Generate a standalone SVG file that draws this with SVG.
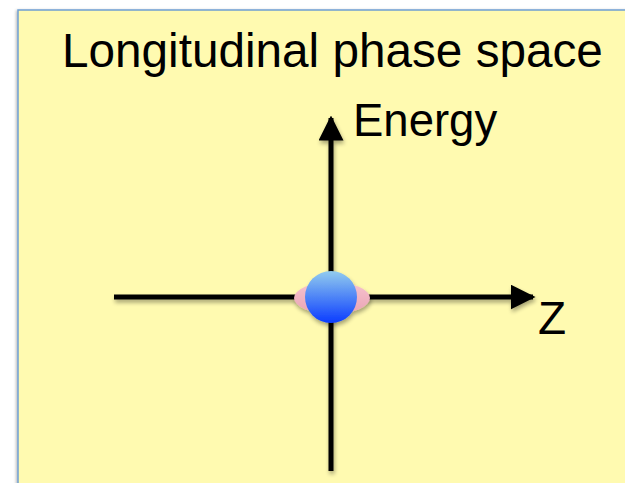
<svg xmlns="http://www.w3.org/2000/svg" width="625" height="483" viewBox="0 0 625 483">
  <style>
    .lbl { font-family: "Liberation Sans", Arial, sans-serif; fill: #000; }
    .axis { stroke: #000; stroke-width: 5; fill: none; }
  </style>
  <defs>
    <filter id="sh" x="-20%" y="-20%" width="140%" height="160%">
      <feGaussianBlur in="SourceAlpha" stdDeviation="2"/>
      <feOffset dx="1" dy="3" result="b"/>
      <feComponentTransfer><feFuncA type="linear" slope="0.35"/></feComponentTransfer>
      <feMerge><feMergeNode/><feMergeNode in="SourceGraphic"/></feMerge>
    </filter>
    <filter id="bsh" x="-5%" y="-5%" width="110%" height="110%">
      <feGaussianBlur in="SourceAlpha" stdDeviation="1.5"/>
      <feOffset dx="-1" dy="1"/>
      <feComponentTransfer><feFuncA type="linear" slope="0.3"/></feComponentTransfer>
      <feMerge><feMergeNode/><feMergeNode in="SourceGraphic"/></feMerge>
    </filter>
    <linearGradient id="blue" x1="0" y1="0" x2="0" y2="1">
      <stop offset="0" stop-color="#92ccee"/>
      <stop offset="1" stop-color="#0a3cff"/>
    </linearGradient>
    <linearGradient id="pink" x1="0" y1="0" x2="0" y2="1">
      <stop offset="0" stop-color="#f7c3cf"/>
      <stop offset="1" stop-color="#e9a4b4"/>
    </linearGradient>
    <marker id="ah" viewBox="0 0 10 10" refX="9" refY="5" markerWidth="5" markerHeight="5" markerUnits="strokeWidth" orient="auto">
      <path d="M0,0 L10,5 L0,10 Z" fill="#000"/>
    </marker>
  </defs>

  <g id="frame">
    <rect x="18" y="10" width="620" height="490" fill="#fffab0" stroke="#6f9fd2" stroke-width="1.5" filter="url(#bsh)"/>
  </g>

  <g id="title">
    <text class="lbl" x="62" y="67" font-size="47.7">Longitudinal phase space</text>
  </g>

  <g id="connectors" filter="url(#sh)">
    <line class="axis" x1="331" y1="471" x2="331" y2="118" marker-end="url(#ah)"/>
    <line class="axis" x1="114" y1="297" x2="533" y2="297" marker-end="url(#ah)"/>
  </g>

  <g id="bunch" filter="url(#sh)">
    <ellipse cx="332" cy="298" rx="38" ry="16" fill="url(#pink)"/>
    <circle cx="331" cy="297" r="26" fill="url(#blue)"/>
  </g>

  <g id="energy-label">
    <text class="lbl" x="353" y="136" font-size="45.5">Energy</text>
  </g>
  <g id="z-label">
    <text class="lbl" x="538" y="334" font-size="46">Z</text>
  </g>
</svg>
